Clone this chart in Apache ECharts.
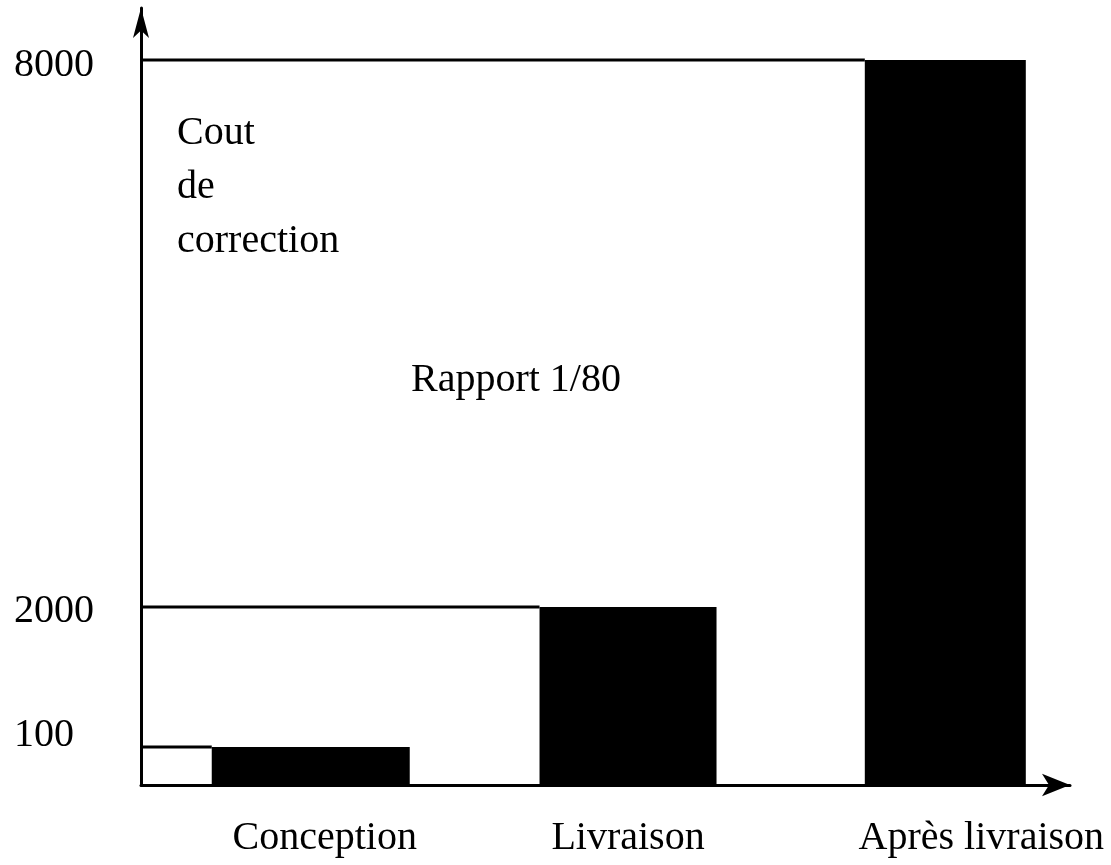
<!DOCTYPE html>
<html>
<head>
<meta charset="utf-8">
<script src="https://cdn.jsdelivr.net/npm/echarts@6/dist/echarts.min.js"></script>
<style>
  html, body { margin: 0; padding: 0; background: #fff; }
  #chart { width: 1111px; height: 865px; }
</style>
</head>
<body>
<div id="chart"></div>
<script>
// stages of the project
const categories = ["Conception", "Livraison", "Après livraison"];
// cost labels written on the y axis
const costLabels = ["100", "2000", "8000"];
// bar heights as drawn (the schematic exaggerates the small "100" bar)
const drawnHeights = [420, 1965, 8000];

// bar widths in px, the drawing does not use one width for all
const barWidthPx = [198, 177, 161];

const FONT = '"Liberation Serif", "Times New Roman", serif';

const chart = echarts.init(document.getElementById("chart"), null, { renderer: "canvas" });

function renderBar(params, api) {
  const i = api.value(0);
  const v = api.value(1);
  const top = api.coord([i, v]);
  const base = api.coord([i, 0]);
  const w = barWidthPx[i];
  const x0 = top[0] - w / 2;
  const cs = params.coordSys;
  return {
    type: "group",
    children: [
      // guide line from the y axis to the top of the bar
      { type: "line", shape: { x1: cs.x, y1: top[1], x2: x0, y2: top[1] },
        style: { stroke: "#000", lineWidth: 3 } },
      { type: "rect", shape: { x: x0, y: top[1], width: w, height: base[1] - top[1] },
        style: { fill: "#000" } }
    ]
  };
}

const labelStyle = { fontFamily: FONT, fontSize: 40, color: "#000" };

const option = {
  animation: false,
  backgroundColor: "#fff",
  grid: { left: 141, right: 41, top: 8, bottom: 80, containLabel: false },

  xAxis: {
    type: "value",
    min: -0.535,
    max: 2.393,
    axisLine: {
      onZero: false,
      symbol: ["none", "arrow"],
      symbolSize: [17, 28],
      lineStyle: { color: "#000", width: 3 }
    },
    axisTick: { show: false },
    splitLine: { show: false },
    axisLabel: {
      customValues: [0, 1, 2],
      formatter: function (v) {
        const i = Math.round(v);
        return "{c" + i + "|" + (categories[i] || "") + "}";
      },
      color: "#000",
      fontFamily: FONT,
      fontSize: 40,
      margin: 33,
      rich: {
        c0: Object.assign({ padding: [0, 0, 0, 28] }, labelStyle),
        c1: Object.assign({}, labelStyle),
        c2: Object.assign({ padding: [0, 0, 0, 72] }, labelStyle)
      }
    }
  },

  yAxis: {
    type: "value",
    min: 0,
    max: 8574,
    axisLine: {
      onZero: false,
      symbol: ["none", "arrow"],
      symbolSize: [12, 30],
      lineStyle: { color: "#000", width: 3 }
    },
    axisTick: { show: false },
    splitLine: { show: false },
    axisLabel: {
      customValues: drawnHeights,
      formatter: function (v) {
        const idx = drawnHeights.indexOf(v);
        if (idx < 0) return "";
        return (idx === 0 ? "{low|" : "{std|") + costLabels[idx] + "}";
      },
      align: "left",
      margin: 127,
      color: "#000",
      fontFamily: FONT,
      fontSize: 40,
      rich: {
        std: Object.assign({ padding: [10, 0, 0, 0] }, labelStyle),
        low: Object.assign({ padding: [0, 0, 22, 0] }, labelStyle)
      }
    }
  },

  graphic: [
    {
      type: "text",
      left: 177,
      top: 106,
      style: {
        text: "Cout\nde\ncorrection",
        font: "40px " + FONT,
        lineHeight: 54,
        fill: "#000"
      }
    },
    {
      type: "text",
      left: 411,
      top: 360,
      style: {
        text: "Rapport 1/80",
        font: "40px " + FONT,
        fill: "#000"
      }
    }
  ],

  series: [
    {
      type: "custom",
      renderItem: renderBar,
      data: drawnHeights.map((h, i) => [i, h])
    }
  ]
};

chart.setOption(option);
</script>
</body>
</html>
